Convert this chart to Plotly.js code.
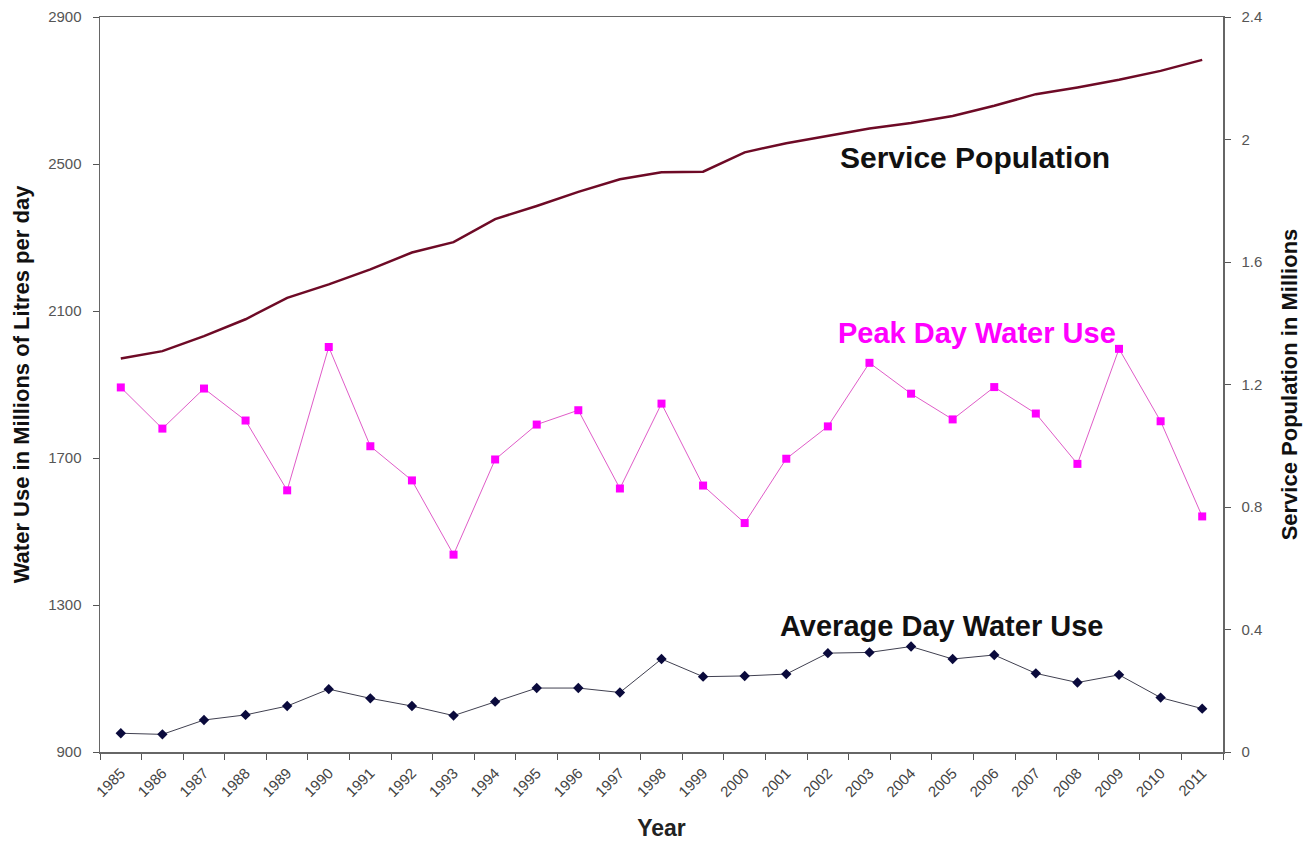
<!DOCTYPE html>
<html>
<head>
<meta charset="utf-8">
<script src="https://cdn.plot.ly/plotly-3.0.1.min.js"></script>
<style>
html,body{margin:0;padding:0;background:#fff;}
#chart{width:1309px;height:841px;}
</style>
</head>
<body>
<div id="chart"></div>
<script>
const years = ["1985","1986","1987","1988","1989","1990","1991","1992","1993","1994","1995","1996","1997","1998","1999","2000","2001","2002","2003","2004","2005","2006","2007","2008","2009","2010","2011"];
const peakDay = [1892,1780,1889,1802,1612,2002,1732,1639,1437,1696,1791,1830,1617,1848,1625,1523,1698,1786,1959,1875,1805,1893,1821,1684,1997,1800,1541];
const averageDay = [951,948,987,1001,1025,1071,1046,1025,999,1037,1074,1074,1062,1153,1105,1107,1112,1169,1171,1187,1153,1164,1114,1089,1110,1048,1018];
const servicePop = [1.285,1.309,1.358,1.413,1.483,1.527,1.576,1.631,1.665,1.740,1.783,1.829,1.870,1.893,1.895,1.958,1.988,2.012,2.036,2.054,2.077,2.110,2.148,2.170,2.195,2.224,2.260];
const leftTicks = [900,1300,1700,2100,2500,2900];
const rightTicks = [0,0.4,0.8,1.2,1.6,2,2.4];
const rightTickText = ["0","0.4","0.8","1.2","1.6","2","2.4"];

const FONT = "Liberation Sans, Arial, sans-serif";

const traces = [
  {
    x: years, y: servicePop, yaxis: "y2", type: "scatter", mode: "lines",
    name: "Service Population",
    line: {color: "#6e0a26", width: 2.5}
  },
  {
    x: years, y: peakDay, type: "scatter", mode: "lines+markers",
    name: "Peak Day Water Use",
    line: {color: "#e05cc8", width: 1},
    marker: {symbol: "square", size: 8, color: "#ff00ff"}
  },
  {
    x: years, y: averageDay, type: "scatter", mode: "lines+markers",
    name: "Average Day Water Use",
    line: {color: "#404050", width: 1},
    marker: {symbol: "diamond", size: 8, color: "#0a0a3c"}
  }
];

const layout = {
  width: 1309, height: 841,
  margin: {l: 100, r: 86, t: 17, b: 89},
  paper_bgcolor: "#fff", plot_bgcolor: "#fff",
  showlegend: false,
  font: {family: FONT, color: "#555"},
  xaxis: {
    type: "category",
    range: [-0.5, 26.5],
    tickson: "boundaries",
    ticks: "outside", ticklen: 6, tickcolor: "#555",
    showline: true, linecolor: "#666", linewidth: 1.5,
    mirror: true,
    showgrid: false, zeroline: false,
    tickangle: -45,
    ticklabelstandoff: 5,
    tickfont: {size: 15, color: "#444", family: FONT},
    title: {text: "Year", font: {size: 23, color: "#222", family: FONT, weight: "bold"}, standoff: 22}
  },
  yaxis: {
    range: [900, 2900],
    tickvals: leftTicks,
    ticks: "outside", ticklen: 6, tickcolor: "#555",
    showline: true, linecolor: "#666", linewidth: 1.5,
    showgrid: false, zeroline: false,
    ticklabelstandoff: 8,
    tickfont: {size: 15, color: "#555", family: FONT},
    title: {text: "Water Use in Millions of Litres per day", font: {size: 22, color: "#111", family: FONT, weight: "bold"}, standoff: 12}
  },
  yaxis2: {
    overlaying: "y", side: "right",
    range: [0, 2.4],
    tickvals: rightTicks, ticktext: rightTickText,
    ticks: "outside", ticklen: 6, tickcolor: "#555",
    showline: true, linecolor: "#666", linewidth: 1.5,
    showgrid: false, zeroline: false,
    ticklabelstandoff: 8,
    tickfont: {size: 15, color: "#555", family: FONT},
    title: {text: "Service Population in Millions", font: {size: 22, color: "#111", family: FONT, weight: "bold"}, standoff: 20}
  },
  annotations: [
    {xref: "paper", yref: "paper", x: (975-100)/1123, y: (752-157)/735, xanchor: "center", yanchor: "middle",
     text: "<b>Service Population</b>",
     showarrow: false, font: {size: 30, color: "#111", family: FONT}},
    {xref: "paper", yref: "paper", x: (977-100)/1123, y: (752-333)/735, xanchor: "center", yanchor: "middle",
     text: "<b>Peak Day Water Use</b>",
     showarrow: false, font: {size: 29, color: "#ff00ff", family: FONT}},
    {xref: "paper", yref: "paper", x: (941-100)/1123, y: (752-626)/735, xanchor: "center", yanchor: "middle",
     text: "<b>Average Day Water Use</b>",
     showarrow: false, font: {size: 29, color: "#111", family: FONT}}
  ]
};

Plotly.newPlot("chart", traces, layout, {displayModeBar: false, staticPlot: true});
</script>
</body>
</html>
